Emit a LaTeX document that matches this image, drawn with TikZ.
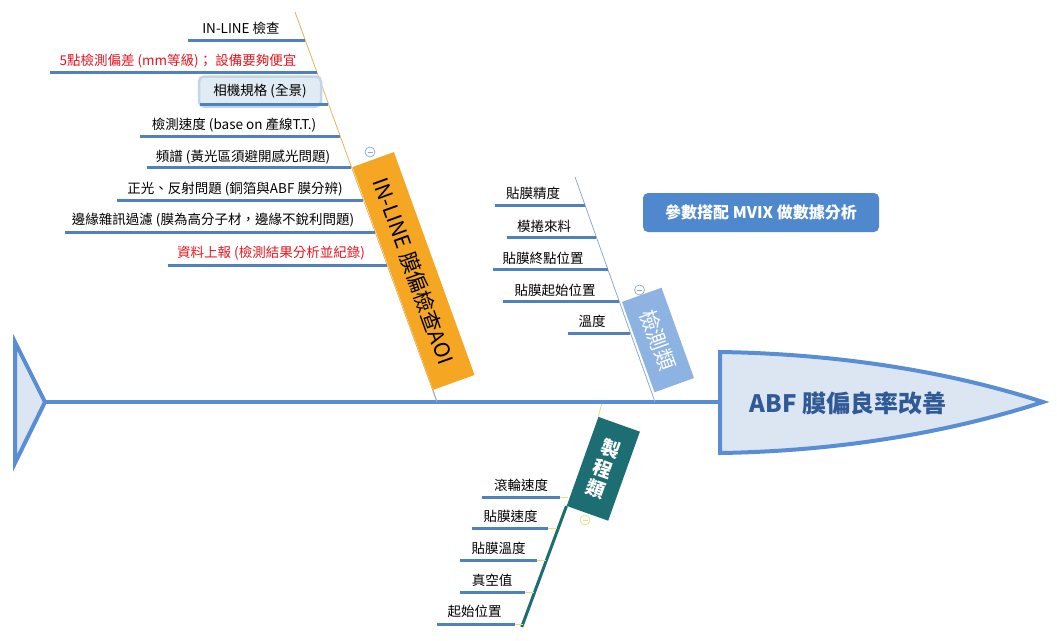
\documentclass[tikz,border=0pt]{standalone}
\usepackage{fontspec}
\setmainfont{Noto Sans CJK TC}
\usepackage{xcolor}
\usepackage{tikz}
\usetikzlibrary{positioning, calc}
\definecolor{spineblue}{HTML}{5A8ED4}
\definecolor{headfill}{HTML}{DCE6F2}
\definecolor{subblue}{HTML}{4F81BD}
\definecolor{aoiorange}{HTML}{F5A623}
\definecolor{measblue}{HTML}{8DB3E2}
\definecolor{procteal}{HTML}{1D6E73}
\definecolor{noteblue}{HTML}{4F88CC}
\definecolor{headtext}{HTML}{2F5A96}
\definecolor{alertred}{HTML}{E8141E}
\definecolor{tanline}{HTML}{E3B35A}
\definecolor{paleline}{HTML}{8FA9D4}
\definecolor{paleyellow}{HTML}{EEDC7A}
\definecolor{camfill}{HTML}{E1EBF4}
\definecolor{camglow}{HTML}{C3D6E8}
\tikzset{
    spine/.style={line width=4pt, spineblue},
    bone/.style={line width=0.8pt},
    subline/.style={line width=3pt, subblue},
    twig/.style={line width=1pt, paleyellow},
    sublabel/.style={font=\fontsize{13.5}{15}\selectfont, inner sep=0pt},
    catbox/.style={inner sep=0pt, font=\fontsize{21}{23}\selectfont},
    collapse/.style={circle, draw, line width=0.7pt, minimum size=10pt, inner sep=0pt, fill=white}
}

\begin{document}
\begin{tikzpicture}[x=1pt, y=-1pt]
    \useasboundingbox (0,0) rectangle (1057,640);
    % Fish tail and spine
    \coordinate (tailtip) at (45,402);
    \coordinate (headleft) at (720,402);
    \filldraw[spine, fill=headfill, line join=miter] (15,342) -- (tailtip) -- (15,463) -- cycle;
    \draw[spine] (tailtip) -- (headleft);
    % Fish head
    \filldraw[spine, fill=headfill] (720,352) .. controls (850,354) and (960,375) .. (1043,402)
        .. controls (960,429) and (850,451) .. (720,453) -- cycle;
    \node[font=\fontsize{24}{26}\selectfont\bfseries, text=headtext] (effect) at (848,403) {ABF 膜偏良率改善};

    % Branch 1: IN-LINE AOI
    \coordinate (b1top) at (295,12);
    \coordinate (b1foot) at (437,402);
    \draw[bone, tanline] (b1top) -- (b1foot);
    \node[sublabel] (a1) at (241,28) {IN-LINE 檢查};
    \coordinate (a1l) at (188,40); \coordinate (a1r) at (305,40);
    \draw[subline] (a1l) -- (a1r);
    \node[sublabel, text=alertred] (a2) at (178,61) {5點檢測偏差 (mm等級)； 設備要夠便宜};
    \coordinate (a2l) at (50,72); \coordinate (a2r) at (317,72);
    \draw[subline] (a2l) -- (a2r);
    \node[sublabel, fill=camfill, draw=camglow, line width=2.5pt, rounded corners=5pt,
        minimum width=122pt, minimum height=30pt] (a3) at (260,91.5) {相機規格 (全景)};
    \coordinate (a3l) at (200,104); \coordinate (a3r) at (328,104);
    \draw[subline] (a3l) -- (a3r);
    \node[sublabel] (a4) at (234,125) {檢測速度 (base on 產線T.T.)};
    \coordinate (a4l) at (140,136); \coordinate (a4r) at (340,136);
    \draw[subline] (a4l) -- (a4r);
    \node[sublabel] (a5) at (243,157) {頻譜 (黃光區須避開感光問題)};
    \coordinate (a5l) at (147,167); \coordinate (a5r) at (351,167);
    \draw[subline] (a5l) -- (a5r);
    \node[sublabel] (a6) at (235,189) {正光、反射問題 (銅箔與ABF 膜分辨)};
    \coordinate (a6l) at (117,200); \coordinate (a6r) at (363,200);
    \draw[subline] (a6l) -- (a6r);
    \node[sublabel] (a7) at (213,220) {邊緣雜訊過濾 (膜為高分子材，邊緣不銳利問題)};
    \coordinate (a7l) at (65,232); \coordinate (a7r) at (375,232);
    \draw[subline] (a7l) -- (a7r);
    \node[sublabel, text=alertred] (a8) at (271,253) {資料上報 (檢測結果分析並紀錄)};
    \coordinate (a8l) at (168,265); \coordinate (a8r) at (387,265);
    \draw[subline] (a8l) -- (a8r);
    \node[catbox, fill=aoiorange, minimum width=237pt, minimum height=44pt, rotate=-70.1] (aoi) at (413.5,271) {IN-LINE 膜偏檢查AOI};
    \draw[bone, paleline] (aoi.south east) -- (b1foot);
    \node[collapse, draw=paleline, text=paleline] (fold1) at (370,152) {\rule{5pt}{0.8pt}};

    % Branch 2: measurement
    \coordinate (b2top) at (575,177);
    \coordinate (b2foot) at (655,402);
    \draw[bone, paleline] (b2top) -- (b2foot);
    \node[sublabel] (m1) at (533,193) {貼膜精度};
    \coordinate (m1l) at (495,205); \coordinate (m1r) at (585,205);
    \draw[subline] (m1l) -- (m1r);
    \node[sublabel] (m2) at (544,226) {模捲來料};
    \coordinate (m2l) at (507,237); \coordinate (m2r) at (596,237);
    \draw[subline] (m2l) -- (m2r);
    \node[sublabel] (m3) at (543,258) {貼膜終點位置};
    \coordinate (m3l) at (493,269); \coordinate (m3r) at (608,269);
    \draw[subline] (m3l) -- (m3r);
    \node[sublabel] (m4) at (555,290) {貼膜起始位置};
    \coordinate (m4l) at (503,301); \coordinate (m4r) at (619,301);
    \draw[subline] (m4l) -- (m4r);
    \node[sublabel] (m5) at (592,321) {溫度};
    \coordinate (m5l) at (568,333); \coordinate (m5r) at (630,333);
    \draw[subline] (m5l) -- (m5r);
    \node[catbox, fill=measblue, text=white, minimum width=96pt, minimum height=42pt, rotate=-70.2] (meas) at (658,340) {檢測類};
    \node[collapse, draw=paleline, text=paleline] (fold2) at (639.5,290) {\rule{5pt}{0.8pt}};

    % Callout
    \node[fill=noteblue, rounded corners=5pt, text=white, font=\fontsize{16}{18}\selectfont\bfseries,
        minimum width=236pt, minimum height=39pt, inner sep=0pt] (note) at (761,212.5) {參數搭配 MVIX 做數據分析};

    % Branch 3: process
    \coordinate (b3top) at (601.7,404);
    \coordinate (b3end) at (521.7,627);
    \node[catbox, font=\fontsize{19}{21}\selectfont\bfseries, fill=procteal, text=white, align=center,
        minimum width=44pt, minimum height=94.5pt, rotate=-19.6] (proc) at (603.3,468.8) {製\\程\\類};
    \draw[bone, paleyellow] (b3top) -- (proc.north west);
    \draw[line width=3pt, procteal] (proc.south west) -- (b3end);
    \node[sublabel] (p1) at (521,485) {滾輪速度};
    \coordinate (p1l) at (482,497); \coordinate (p1m) at (560,497); \coordinate (p1r) at (568,497);
    \draw[subline] (p1l) -- (p1m); \draw[twig] (p1m) -- (p1r);
    \node[sublabel] (p2) at (510.5,516.5) {貼膜速度};
    \coordinate (p2l) at (472,528); \coordinate (p2m) at (548,528); \coordinate (p2r) at (557,528);
    \draw[subline] (p2l) -- (p2m); \draw[twig] (p2m) -- (p2r);
    \node[sublabel] (p3) at (498.5,548.5) {貼膜溫度};
    \coordinate (p3l) at (460,560); \coordinate (p3m) at (537,560); \coordinate (p3r) at (546,560);
    \draw[subline] (p3l) -- (p3m); \draw[twig] (p3m) -- (p3r);
    \node[sublabel] (p4) at (492,580) {真空值};
    \coordinate (p4l) at (460,592); \coordinate (p4m) at (525,592); \coordinate (p4r) at (534,592);
    \draw[subline] (p4l) -- (p4m); \draw[twig] (p4m) -- (p4r);
    \node[sublabel] (p5) at (474.5,611) {起始位置};
    \coordinate (p5l) at (437,624); \coordinate (p5m) at (515,624); \coordinate (p5r) at (523,624);
    \draw[subline] (p5l) -- (p5m); \draw[twig] (p5m) -- (p5r);
    \node[collapse, draw=paleyellow, text=paleyellow] (fold3) at (585,520) {\rule{5pt}{0.8pt}};
\end{tikzpicture}
\end{document}
